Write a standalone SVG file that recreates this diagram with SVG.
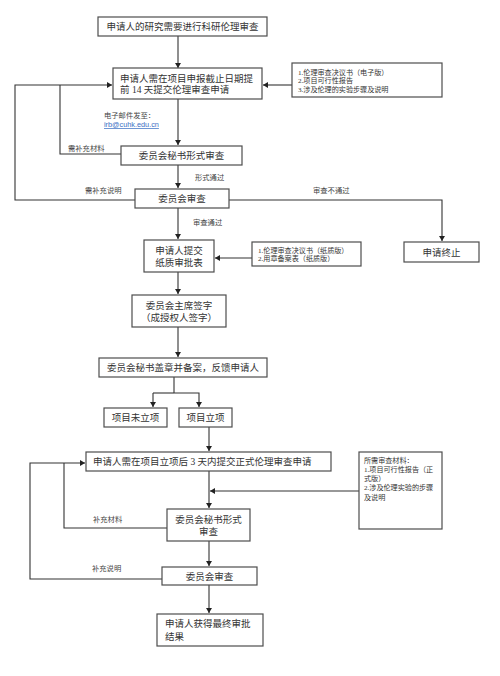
<svg xmlns="http://www.w3.org/2000/svg" width="500" height="676" viewBox="0 0 500 676">
<style>
.box{fill:#fff;stroke:#4d4d4d;stroke-width:1.2}
.t{font-family:"Liberation Serif","Noto Sans CJK SC",serif;font-size:9.5px;fill:#333}
.c{text-anchor:middle}
.s{font-family:"Liberation Serif","Noto Sans CJK SC",serif;font-size:7.1px;fill:#333}
.l{font-family:"Liberation Serif","Noto Sans CJK SC",serif;font-size:7.3px;fill:#444}
.ln{fill:none;stroke:#333;stroke-width:1.1}
.a{marker-end:url(#ah)}
</style>
<defs>
<marker id="ah" markerUnits="userSpaceOnUse" markerWidth="6" markerHeight="6" refX="5" refY="3" orient="auto">
<path d="M0,0 L5,3 L0,6 Z" fill="#222"/>
</marker>
</defs>
<rect width="500" height="676" fill="#fff"/>
<g id="connectors">
<path class="ln a" d="M178,36 V68"/>
<path class="ln a" d="M292,85 H263"/>
<path class="ln" d="M121,154 H60 V85"/>
<path class="ln a" d="M135,200 H15 V85 H112"/>
<path class="ln a" d="M178,99 V145"/>
<path class="ln a" d="M178,165 V188"/>
<path class="ln a" d="M229,200 H442 V241"/>
<path class="ln a" d="M178,208 V239"/>
<path class="ln a" d="M252,258 H215"/>
<path class="ln a" d="M178,272 V294"/>
<path class="ln a" d="M178,327 V357"/>
<path class="ln" d="M174,377 V393"/>
<path class="ln a" d="M153,393 V407"/>
<path class="ln a" d="M174,393 H199 V407"/>
<path class="ln" d="M153,393 H174"/>
<path class="ln a" d="M209,427 V451"/>
<path class="ln a" d="M209,471 V508"/>
<path class="ln a" d="M359,491 H210"/>
<path class="ln" d="M167,528 H64 V463"/>
<path class="ln a" d="M162,579 H30 V463 H85"/>
<path class="ln a" d="M209,541 V566"/>
<path class="ln a" d="M209,585 V613"/>
</g>
<g id="n1"><rect class="box" x="98" y="17" width="169" height="19"/><text class="t c" x="182.5" y="30">申请人的研究需要进行科研伦理审查</text></g>
<g id="n2"><rect class="box" x="113" y="68" width="149" height="31"/><text class="t" x="120" y="81.5">申请人需在项目申报截止日期提</text><text class="t" x="120" y="93">前 14 天提交伦理审查申请</text></g>
<g id="side1"><rect class="box" x="292" y="63" width="150" height="34"/><text class="s" x="298" y="74.5">1.伦理审查决议书（电子版）</text><text class="s" x="298" y="83">2.项目可行性报告</text><text class="s" x="298" y="91.5">3.涉及伦理的实验步骤及说明</text></g>
<g id="email"><text class="l" x="104" y="117.5">电子邮件发至：</text><text x="104" y="127" font-family="Liberation Sans,sans-serif" font-size="7.3px" fill="#3a6fc4" text-decoration="underline">irb@cuhk.edu.cn</text></g>
<g id="n3"><rect class="box" x="121" y="146" width="121" height="19"/><text class="t c" x="181.5" y="159">委员会秘书形式审查</text></g>
<g id="n4"><rect class="box" x="135" y="189" width="94" height="19"/><text class="t c" x="182" y="202">委员会审查</text></g>
<g id="labels">
<text class="l" x="68" y="150.5">需补充材料</text>
<text class="l" x="85" y="193">需补充说明</text>
<text class="l" x="195" y="180">形式通过</text>
<text class="l" x="313" y="193">审查不通过</text>
<text class="l" x="193" y="225">审查通过</text>
<text class="l" x="93" y="521.5">补充材料</text>
<text class="l" x="92" y="571">补充说明</text>
</g>
<g id="n5"><rect class="box" x="144" y="240" width="70" height="32"/><text class="t c" x="179" y="253.5">申请人提交</text><text class="t c" x="179" y="265.5">纸质审批表</text></g>
<g id="side2"><rect class="box" x="252" y="242" width="109" height="24"/><text class="s" x="258" y="252.5">1.伦理审查决议书（纸质版）</text><text class="s" x="258" y="261">2.用章备案表（纸质版）</text></g>
<g id="end"><rect class="box" x="404" y="242" width="75" height="20"/><text class="t c" x="441.5" y="255.5">申请终止</text></g>
<g id="n6"><rect class="box" x="132" y="295" width="94" height="32"/><text class="t c" x="179" y="308.5">委员会主席签字</text><text class="t c" x="179" y="320.5">（成授权人签字）</text></g>
<g id="n7"><rect class="box" x="99" y="358" width="168" height="19"/><text class="t c" x="183" y="371">委员会秘书盖章并备案，反馈申请人</text></g>
<g id="n8"><rect class="box" x="104" y="408" width="63" height="19"/><text class="t c" x="135.5" y="421">项目未立项</text></g>
<g id="n9"><rect class="box" x="179" y="408" width="53" height="19"/><text class="t c" x="205.5" y="421">项目立项</text></g>
<g id="n10"><rect class="box" x="86" y="452" width="245" height="19"/><text class="t" x="93" y="465">申请人需在项目立项后 3 天内提交正式伦理审查申请</text></g>
<g id="side3"><rect class="box" x="359" y="452" width="83" height="77"/><text class="s" x="364" y="462.5">所需审查材料：</text><text class="s" x="364" y="471.5">1.项目可行性报告（正</text><text class="s" x="364" y="480.5">式版）</text><text class="s" x="364" y="490">2.涉及伦理实验的步骤</text><text class="s" x="364" y="499.5">及说明</text></g>
<g id="n11"><rect class="box" x="167" y="509" width="83" height="32"/><text class="t c" x="208.5" y="522.5">委员会秘书形式</text><text class="t c" x="208.5" y="534.5">审查</text></g>
<g id="n12"><rect class="box" x="162" y="567" width="95" height="18"/><text class="t c" x="209.5" y="579.5">委员会审查</text></g>
<g id="n13"><rect class="box" x="157" y="614" width="106" height="32"/><text class="t" x="165" y="627">申请人获得最终审批</text><text class="t" x="165" y="639.5">结果</text></g>
</svg>
